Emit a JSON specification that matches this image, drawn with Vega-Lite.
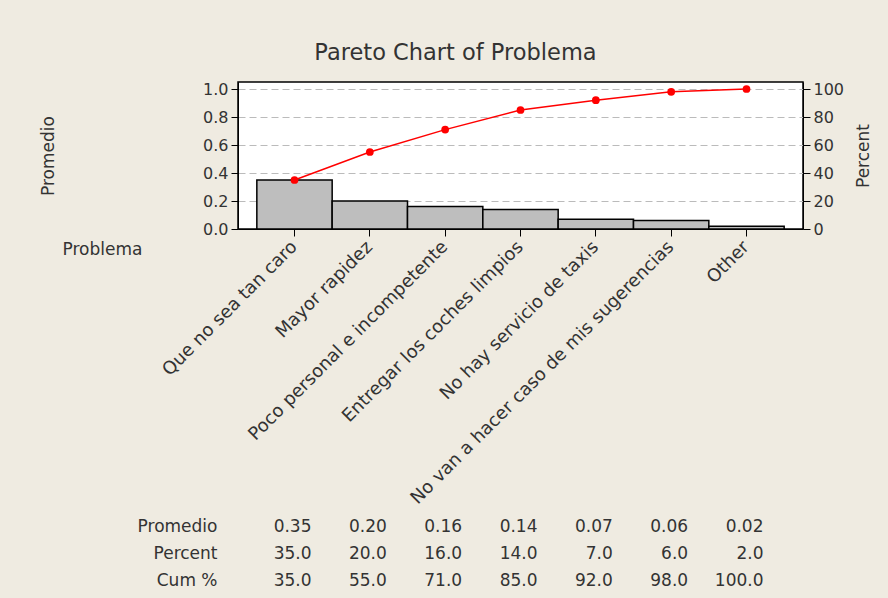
{
  "$schema": "https://vega.github.io/schema/vega-lite/v6.json",
  "background": "#EFEBE1",
  "padding": {"left": 38, "top": 41, "right": 21, "bottom": 6},
  "title": {"text": "Pareto Chart of Problema", "fontSize": 22.5, "font": "DejaVu Sans", "fontWeight": "normal", "color": "#333333", "anchor": "middle", "frame": "group", "dx": -65, "offset": 16},
  "datasets": {
    "pareto": [
      {"Problema": "Que no sea tan caro", "Promedio": 0.35, "Percent": 35.0, "Cum %": 35.0},
      {"Problema": "Mayor rapidez", "Promedio": 0.20, "Percent": 20.0, "Cum %": 55.0},
      {"Problema": "Poco personal e incompetente", "Promedio": 0.16, "Percent": 16.0, "Cum %": 71.0},
      {"Problema": "Entregar los coches limpios", "Promedio": 0.14, "Percent": 14.0, "Cum %": 85.0},
      {"Problema": "No hay servicio de taxis", "Promedio": 0.07, "Percent": 7.0, "Cum %": 92.0},
      {"Problema": "No van a hacer caso de mis sugerencias", "Promedio": 0.06, "Percent": 6.0, "Cum %": 98.0},
      {"Problema": "Other", "Promedio": 0.02, "Percent": 2.0, "Cum %": 100.0}
    ]
  },
  "spacing": 5,
  "vconcat": [
    {
      "width": 565,
      "height": 147,
      "data": {"name": "pareto"},
      "encoding": {
        "x": {
          "field": "Problema", "type": "nominal", "sort": null,
          "scale": {"type": "band", "paddingInner": 0, "paddingOuter": 0.25},
          "axis": {
            "labelAngle": -45, "labelAlign": "right", "labelBaseline": "middle", "labelLimit": 0, "labelFontSize": 18,
            "tickSize": 7, "tickColor": "#000000", "domainColor": "#000000", "labelPadding": 8,
            "title": "Problema", "titleAngle": 0, "titleAlign": "left", "titleBaseline": "middle",
            "titleX": -176, "titleY": 20, "titleFontSize": 17
          }
        }
      },
      "layer": [
        {
          "mark": {"type": "bar", "fill": "#BEBEBE", "stroke": "#000000", "strokeWidth": 1.5},
          "encoding": {
            "y": {
              "field": "Promedio", "type": "quantitative",
              "scale": {"domain": [0, 1.05], "nice": false, "zero": true},
              "axis": {
                "values": [0, 0.2, 0.4, 0.6, 0.8, 1.0], "format": ".1f",
                "grid": true, "gridDash": [7, 4], "gridColor": "#BBBBBB", "gridWidth": 1.2,
                "tickSize": 7, "tickColor": "#000000", "domainColor": "#000000", "labelPadding": 3,
                "title": "Promedio", "titlePadding": 145, "titleFontSize": 17
              }
            }
          }
        },
        {
          "encoding": {
            "y": {
              "field": "Cum %", "type": "quantitative",
              "scale": {"domain": [0, 105], "nice": false},
              "axis": {
                "orient": "right", "values": [0, 20, 40, 60, 80, 100],
                "grid": false, "tickSize": 7, "tickColor": "#000000", "domainColor": "#000000", "labelPadding": 3,
                "title": "Percent", "titlePadding": 12, "titleFontSize": 17, "titleAngle": -90, "titleBaseline": "top"
              }
            }
          },
          "layer": [
            {"mark": {"type": "line", "color": "#FF0000", "strokeWidth": 1.5}},
            {"mark": {"type": "point", "filled": true, "color": "#FF0000", "size": 60, "opacity": 1}}
          ]
        }
      ],
      "resolve": {"scale": {"y": "independent"}}
    },
    {
      "width": 565,
      "height": 81,
      "data": {"name": "pareto"},
      "encoding": {
        "x": {
          "field": "Problema", "type": "nominal", "sort": null,
          "scale": {"type": "band", "paddingInner": 0, "paddingOuter": 0.25},
          "axis": null
        },
        "y": {
          "field": "row", "type": "nominal", "sort": ["Promedio", "Percent", "Cum %"],
          "scale": {"type": "point", "padding": 0.5},
          "axis": {"domain": false, "ticks": false, "labelPadding": 21, "title": null, "labelFontSize": 17}
        }
      },
      "layer": [
        {
          "transform": [{"fold": ["Promedio"], "as": ["row", "value"]}],
          "mark": {"type": "text", "align": "right", "dx": 17, "fontSize": 17, "color": "#333333", "font": "DejaVu Sans"},
          "encoding": {"text": {"field": "value", "type": "quantitative", "format": ".2f"}}
        },
        {
          "transform": [{"fold": ["Percent", "Cum %"], "as": ["row", "value"]}],
          "mark": {"type": "text", "align": "right", "dx": 17, "fontSize": 17, "color": "#333333", "font": "DejaVu Sans"},
          "encoding": {"text": {"field": "value", "type": "quantitative", "format": ".1f"}}
        }
      ],
      "view": {"stroke": null, "fill": null}
    }
  ],
  "config": {
    "font": "DejaVu Sans",
    "view": {"fill": "#FFFFFF", "stroke": "#000000", "strokeWidth": 1.5},
    "axis": {
      "labelFontSize": 16, "labelColor": "#333333", "titleColor": "#333333",
      "titleFontWeight": "normal", "titleFont": "DejaVu Sans", "labelFont": "DejaVu Sans"
    }
  }
}
